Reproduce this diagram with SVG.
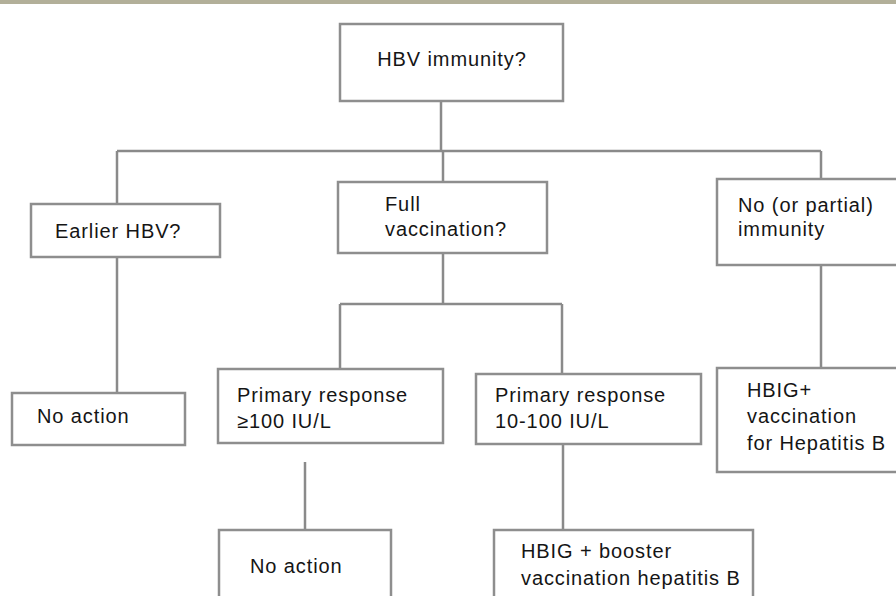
<svg xmlns="http://www.w3.org/2000/svg" width="896" height="596" viewBox="0 0 896 596">
<style>
.box{fill:#fff;stroke:#8e8e8e;stroke-width:2.5}
.t{font-family:"Liberation Sans",Arial,sans-serif;font-size:20px;fill:#151515;letter-spacing:0.9px}
.c{fill:none;stroke:#8a8a8a;stroke-width:2.5}
</style>
<rect x="0" y="0" width="896" height="4" fill="#b2af99"/>
<g id="connectors">
<path class="c" d="M441 101V151"/>
<path class="c" d="M117 151H821"/>
<path class="c" d="M117 151V204"/>
<path class="c" d="M443 151V182"/>
<path class="c" d="M821 151V179"/>
<path class="c" d="M117 257V393"/>
<path class="c" d="M443 253V304"/>
<path class="c" d="M340 304H562"/>
<path class="c" d="M340 304V369"/>
<path class="c" d="M562 304V374"/>
<path class="c" d="M305 462V530"/>
<path class="c" d="M563 444V530"/>
<path class="c" d="M821 265V368"/>
</g>
<g id="n-hbv">
<rect class="box" x="340" y="24" width="223" height="77"/>
<text class="t" x="452" y="66" text-anchor="middle">HBV immunity?</text>
</g>
<g id="n-earlier">
<rect class="box" x="31" y="204" width="189" height="53"/>
<text class="t" x="55" y="238">Earlier HBV?</text>
</g>
<g id="n-full">
<rect class="box" x="338" y="182" width="209" height="71"/>
<text class="t" x="385" y="211">Full</text>
<text class="t" x="385" y="236">vaccination?</text>
</g>
<g id="n-no">
<rect class="box" x="717" y="179" width="190" height="86"/>
<text class="t" x="738" y="212">No (or partial)</text>
<text class="t" x="738" y="236">immunity</text>
</g>
<g id="n-noaction1">
<rect class="box" x="12" y="393" width="173" height="52"/>
<text class="t" x="37" y="423">No action</text>
</g>
<g id="n-prim100">
<rect class="box" x="218" y="369" width="225" height="74"/>
<text class="t" x="237" y="402">Primary response</text>
<text class="t" x="237" y="428">≥100 IU/L</text>
</g>
<g id="n-prim10">
<rect class="box" x="476" y="374" width="225" height="70"/>
<text class="t" x="495" y="402">Primary response</text>
<text class="t" x="495" y="428">10-100 IU/L</text>
</g>
<g id="n-hbig">
<rect class="box" x="717" y="368" width="190" height="104"/>
<text class="t" x="747" y="397">HBIG+</text>
<text class="t" x="747" y="423">vaccination</text>
<text class="t" x="747" y="450">for Hepatitis B</text>
</g>
<g id="n-noaction2">
<rect class="box" x="219" y="530" width="172" height="80"/>
<text class="t" x="250" y="573">No action</text>
</g>
<g id="n-booster">
<rect class="box" x="494" y="530" width="259" height="80"/>
<text class="t" x="521" y="558">HBIG + booster</text>
<text class="t" x="521" y="585">vaccination hepatitis B</text>
</g>
</svg>
